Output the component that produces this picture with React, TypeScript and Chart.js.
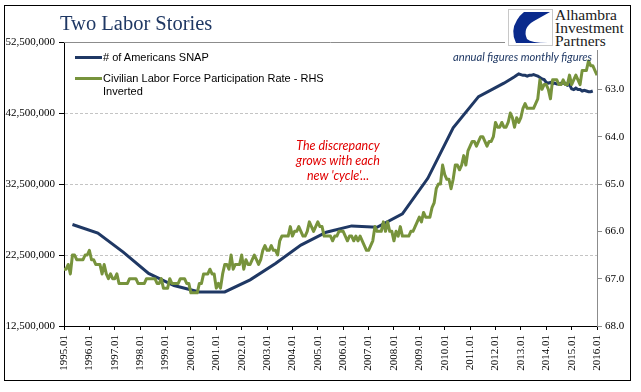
import React, { useEffect, useRef } from 'react';
import { Chart, registerables } from 'chart.js';

Chart.register(...registerables);

// ---------- DATA ----------
const xTickYears = [1995, 1996, 1997, 1998, 1999, 2000, 2001, 2002, 2003, 2004, 2005, 2006, 2007, 2008, 2009, 2010, 2011, 2012, 2013, 2014, 2015, 2016];
const leftTicks = [12500000, 22500000, 32500000, 42500000, 52500000];
const rightTicks = [62, 63, 64, 65, 66, 67, 68];

// SNAP participants, annual figures (plotted at month 5 of each year)
const snapAnnualYears = [1995, 1996, 1997, 1998, 1999, 2000, 2001, 2002, 2003, 2004, 2005, 2006, 2007, 2008, 2009, 2010, 2011, 2012];
const snapAnnualMillions = [26.8, 25.6, 22.9, 19.9, 18.2, 17.3, 17.3, 19.0, 21.3, 23.9, 25.7, 26.6, 26.4, 28.3, 33.3, 40.4, 44.8, 46.7];
const snapAnnualMonth = 5;

// SNAP participants, monthly figures from Oct 2012
const snapMonthlyStart = { year: 2012, month: 10 };
const snapMonthlyMillions = [
  47.6, 47.8, 48.0,
  47.9, 47.8, 47.8, 47.7, 47.8, 47.8, 47.9, 47.8, 47.7, 47.5, 47.3, 47.2,
  46.8, 46.7, 46.8, 46.6, 46.7, 46.6, 46.6, 46.7, 46.7, 46.7, 46.4, 46.5,
  45.9, 45.8, 46.0, 45.8, 45.8, 45.6, 45.7, 45.6, 45.5, 45.5, 45.6,
];

// Civilian labor force participation rate, monthly from Jan 1995
const lfprStart = { year: 1995, month: 1 };
const lfpr1995 = [66.8, 66.8, 66.7, 66.9, 66.5, 66.5, 66.6, 66.6, 66.6, 66.6, 66.5, 66.5];
const lfpr1996 = [66.4, 66.6, 66.6, 66.7, 66.7, 66.7, 66.9, 66.7, 66.9, 67.0, 66.9, 67.0];
const lfpr1997 = [67.0, 66.9, 67.1, 67.1, 67.1, 67.1, 67.1, 67.0, 67.0, 67.0, 67.0, 67.1];
const lfpr1998 = [67.1, 67.1, 67.1, 67.0, 67.0, 67.0, 67.0, 67.0, 67.1, 67.1, 67.0, 67.2];
const lfpr1999 = [67.2, 67.2, 67.0, 67.1, 67.1, 67.1, 67.1, 67.0, 67.0, 67.0, 67.1, 67.1];
const lfpr2000 = [67.3, 67.3, 67.3, 67.3, 67.1, 67.1, 66.9, 66.9, 66.9, 66.8, 66.9, 66.9];
const lfpr2001 = [67.2, 67.1, 67.2, 66.9, 66.7, 66.7, 66.8, 66.5, 66.8, 66.7, 66.7, 66.7];
const lfpr2002 = [66.5, 66.8, 66.6, 66.7, 66.7, 66.6, 66.5, 66.6, 66.7, 66.6, 66.4, 66.3];
const lfpr2003 = [66.4, 66.4, 66.3, 66.4, 66.4, 66.5, 66.2, 66.1, 66.1, 66.1, 66.1, 65.9];
const lfpr2004 = [66.1, 66.0, 66.0, 65.9, 66.0, 66.1, 66.1, 66.0, 65.8, 65.9, 66.0, 65.9];
const lfpr2005 = [65.8, 65.9, 65.9, 66.1, 66.1, 66.1, 66.1, 66.2, 66.1, 66.1, 66.0, 66.0];
const lfpr2006 = [66.0, 66.1, 66.2, 66.1, 66.1, 66.2, 66.1, 66.2, 66.1, 66.2, 66.3, 66.4];
const lfpr2007 = [66.4, 66.3, 66.2, 65.9, 66.0, 66.0, 66.0, 65.8, 66.0, 65.8, 66.0, 66.0];
const lfpr2008 = [66.2, 66.0, 66.1, 65.9, 66.1, 66.1, 66.1, 66.1, 66.0, 66.0, 65.9, 65.8];
const lfpr2009 = [65.7, 65.8, 65.6, 65.7, 65.7, 65.7, 65.5, 65.4, 65.1, 65.0, 65.0, 64.6];
const lfpr2010 = [64.8, 64.9, 64.9, 65.1, 64.9, 64.6, 64.6, 64.7, 64.6, 64.4, 64.6, 64.3];
const lfpr2011 = [64.2, 64.1, 64.1, 64.2, 64.1, 64.0, 64.0, 64.1, 64.2, 64.1, 64.1, 64.0];
const lfpr2012 = [63.7, 63.8, 63.8, 63.7, 63.8, 63.8, 63.7, 63.5, 63.6, 63.8, 63.6, 63.7];
const lfpr2013 = [63.6, 63.4, 63.3, 63.4, 63.4, 63.4, 63.4, 63.3, 63.2, 62.8, 63.0, 62.9];
const lfpr2014 = [62.9, 63.0, 63.2, 62.8, 62.8, 62.8, 62.9, 62.9, 62.8, 62.9, 62.9, 62.7];
const lfpr2015 = [62.9, 62.8, 62.7, 62.8, 62.9, 62.6, 62.6, 62.6, 62.4, 62.5, 62.5, 62.6];
const lfpr2016 = [62.7];

const snapLabel = '# of Americans SNAP';
const lfprLabel = 'Civilian Labor Force Participation Rate - RHS';
const lfprLabel2 = 'Inverted';
const titleText = 'Two Labor Stories';
const noteLines = ['The discrepancy', 'grows with each', "new 'cycle'..."];
const figuresNote = 'annual figures  monthly figures';
const logoLines = ['Alhambra', 'Investment', 'Partners'];

// ---------- STYLE ----------
const NAVY = '#1f3864';
const GREEN = '#77933c';

const monthToX = (year: number, month: number) => year + (month - 1) / 12;

const topLinePlugin = {
  id: 'topLine',
  beforeDatasetsDraw(chart: any) {
    const { ctx, chartArea } = chart;
    ctx.save();
    ctx.strokeStyle = '#8c8c8c';
    ctx.lineWidth = 1;
    ctx.beginPath();
    ctx.moveTo(chartArea.left, chartArea.top + 0.5);
    ctx.lineTo(chartArea.right, chartArea.top + 0.5);
    ctx.stroke();
    ctx.restore();
  },
};

function ChartCanvas() {
  const ref = useRef<HTMLCanvasElement>(null);
  useEffect(() => {
    if (!ref.current) return;
    const snapPoints: { x: number; y: number }[] = [];
    snapAnnualYears.forEach((yr, i) => snapPoints.push({ x: monthToX(yr, snapAnnualMonth), y: snapAnnualMillions[i] * 1e6 }));
    snapMonthlyMillions.forEach((v, i) => {
      const m = snapMonthlyStart.month - 1 + i;
      snapPoints.push({ x: monthToX(snapMonthlyStart.year + Math.floor(m / 12), (m % 12) + 1), y: v * 1e6 });
    });
    const lfprAll = [
      ...lfpr1995, ...lfpr1996, ...lfpr1997, ...lfpr1998, ...lfpr1999, ...lfpr2000, ...lfpr2001,
      ...lfpr2002, ...lfpr2003, ...lfpr2004, ...lfpr2005, ...lfpr2006, ...lfpr2007, ...lfpr2008,
      ...lfpr2009, ...lfpr2010, ...lfpr2011, ...lfpr2012, ...lfpr2013, ...lfpr2014, ...lfpr2015, ...lfpr2016,
    ];
    const lfprPoints = lfprAll.map((v, i) => {
      const m = lfprStart.month - 1 + i;
      return { x: monthToX(lfprStart.year + Math.floor(m / 12), (m % 12) + 1), y: v };
    });

    const serif = 'Liberation Serif';
    const chart = new Chart(ref.current, {
      type: 'line',
      data: {
        datasets: [
          {
            label: snapLabel,
            data: snapPoints,
            yAxisID: 'y',
            borderColor: NAVY,
            borderWidth: 3,
            pointRadius: 0,
            tension: 0,
            order: 1,
          },
          {
            label: lfprLabel,
            data: lfprPoints,
            yAxisID: 'y2',
            borderColor: GREEN,
            borderWidth: 3,
            borderJoinStyle: 'round',
            pointRadius: 0,
            tension: 0,
            order: 0,
          },
        ],
      },
      options: {
        animation: false,
        responsive: false,
        devicePixelRatio: 1,
        layout: { padding: { top: 42, left: 0, right: 0, bottom: 0 } },
        plugins: { legend: { display: false }, tooltip: { enabled: false }, title: { display: false } },
        scales: {
          x: {
            type: 'linear',
            min: xTickYears[0],
            max: xTickYears[xTickYears.length - 1],
            afterBuildTicks: (s: any) => { s.ticks = xTickYears.map((v) => ({ value: v })); },
            afterFit: (s: any) => { s.height = 66; },
            ticks: {
              autoSkip: false,
              maxRotation: 90,
              minRotation: 90,
              padding: 5,
              color: '#000',
              font: { family: serif, size: 11 },
              callback: (v: any) => `${v}.01`,
            },
            grid: { drawOnChartArea: false, drawTicks: true, tickLength: 4, tickColor: '#000' },
            border: { color: '#000', width: 1 },
          },
          y: {
            position: 'left',
            min: leftTicks[0],
            max: leftTicks[leftTicks.length - 1],
            afterBuildTicks: (s: any) => { s.ticks = leftTicks.map((v) => ({ value: v })); },
            afterFit: (s: any) => { s.width = 64; },
            ticks: {
              padding: 4,
              color: '#000',
              font: { family: serif, size: 11 },
              callback: (v: any) => Number(v).toLocaleString('en-US'),
            },
            grid: {
              color: (c: any) => (c.tick && c.tick.value > leftTicks[0] && c.tick.value < leftTicks[leftTicks.length - 1] ? '#c4c4c4' : 'rgba(0,0,0,0)'),
              tickColor: '#000',
              tickLength: 5,
              lineWidth: 1,
            },
            border: { color: '#000', width: 1, dash: [3, 2] },
          },
          y2: {
            position: 'right',
            reverse: true,
            min: rightTicks[0],
            max: rightTicks[rightTicks.length - 1],
            afterBuildTicks: (s: any) => { s.ticks = rightTicks.map((v) => ({ value: v })); },
            afterFit: (s: any) => { s.width = 44; },
            ticks: {
              padding: 3,
              color: '#000',
              font: { family: serif, size: 11 },
              callback: (v: any) => Number(v).toFixed(1),
            },
            grid: { drawOnChartArea: false, tickColor: '#8c8c8c', tickLength: 5 },
            border: { color: '#8c8c8c', width: 1 },
          },
        },
      },
      plugins: [topLinePlugin],
    } as any);
    return () => chart.destroy();
  }, []);
  return <canvas ref={ref} width={641} height={392} style={{ position: 'absolute', left: 0, top: 0, width: 641, height: 392 }} />;
}

export default function App() {
  const abs = (s: React.CSSProperties): React.CSSProperties => ({ position: 'absolute', whiteSpace: 'nowrap', ...s });
  return (
    <div style={{ position: 'absolute', left: 0, top: 0, width: 641, height: 392, background: '#fff', overflow: 'hidden' }}>
      <div style={abs({ left: 4, top: 5, width: 627, height: 376, border: '1px solid #000', boxSizing: 'border-box' })} />
      <ChartCanvas />
      <div style={abs({ left: 60, top: 13, fontFamily: 'Liberation Serif', fontSize: 20.5, lineHeight: '21px', color: NAVY })}>{titleText}</div>

      {/* legend */}
      <div style={abs({ left: 75, top: 56, width: 27, height: 3, background: NAVY })} />
      <div style={abs({ left: 103, top: 51, fontFamily: 'Liberation Sans', fontSize: 11, lineHeight: '13px', color: '#000' })}>{snapLabel}</div>
      <div style={abs({ left: 75, top: 77, width: 27, height: 3, background: GREEN })} />
      <div style={abs({ left: 103, top: 72, fontFamily: 'Liberation Sans', fontSize: 11, lineHeight: '12.5px', color: '#000' })}>
        {lfprLabel}
        <br />
        {lfprLabel2}
      </div>

      {/* annotation */}
      <div style={abs({ left: 268, top: 138, width: 140, textAlign: 'center', fontFamily: 'Lato', fontStyle: 'italic', fontSize: 12.5, lineHeight: '15px', color: '#e00000' })}>
        {noteLines.map((l, i) => (<div key={i}>{l}</div>))}
      </div>

      {/* logo */}
      <div style={abs({ left: 505, top: 6, width: 124, height: 44, background: '#fff' })} />
      <svg style={{ position: 'absolute', left: 508, top: 9 }} width={45} height={37} viewBox="0 0 45 37">
        <rect x={0.5} y={0.5} width={44} height={36} fill="#fff" stroke="#c8c8c8" />
        <path d="M16 3 L42 3 L26 12 Q14 19 19 30 Q23 34 40 34 L8 34 Q2 22 9 11 Q12 6 16 3 Z" fill="#0a2a8c" />
      </svg>
      <div style={abs({ left: 555, top: 8, fontFamily: 'Liberation Serif', fontSize: 15.5, lineHeight: '13px', color: '#1a1a1a' })}>
        {logoLines.map((l, i) => (<div key={i}>{l}</div>))}
      </div>
      <div style={abs({ left: 453, top: 51, fontFamily: 'Lato', fontStyle: 'italic', fontSize: 11.2, lineHeight: '12px', color: NAVY })}>{figuresNote}</div>
    </div>
  );
}
